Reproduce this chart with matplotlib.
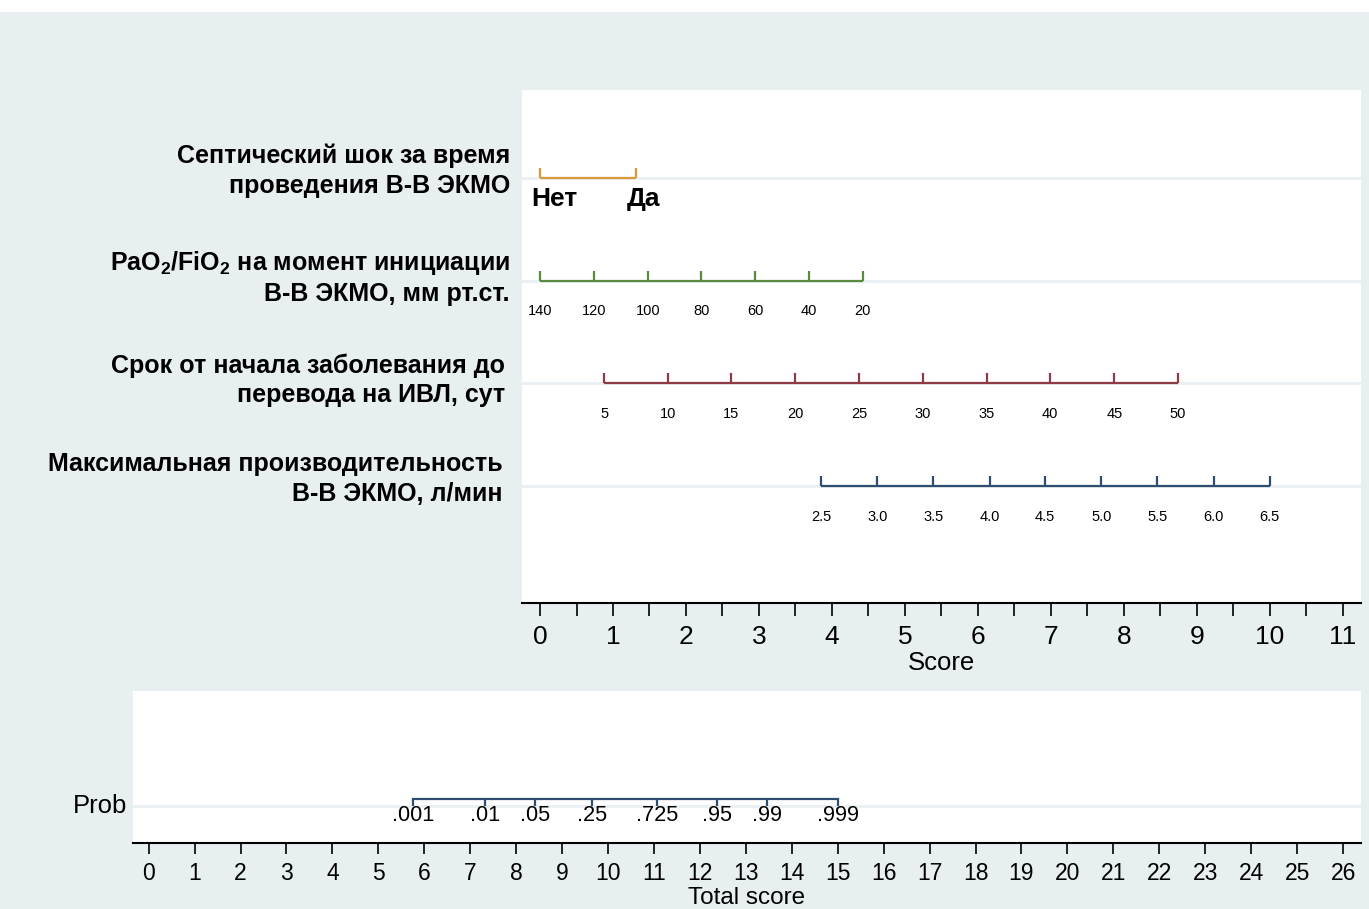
import matplotlib
matplotlib.use("Agg")
import matplotlib.pyplot as plt
import matplotlib.transforms as mtransforms
import matplotlib.patches as patches
import numpy as np

plt.rcParams['font.family'] = ['Liberation Sans', 'DejaVu Sans']
plt.rcParams['mathtext.fontset'] = 'custom'
plt.rcParams['mathtext.rm'] = 'Liberation Sans'
plt.rcParams['mathtext.bf'] = 'Liberation Sans:bold'

# predictor names (rows top -> bottom)
row_names = [
    "Септический шок за время\nпроведения В-В ЭКМО",
    "PaO$_\\mathbf{2}$/FiO$_\\mathbf{2}$ на момент инициации\nВ-В ЭКМО, мм рт.ст.",
    "Срок от начала заболевания до\nперевода на ИВЛ, сут",
    "Максимальная производительность\nВ-В ЭКМО, л/мин",
]
row_colors = ['#d89a3a', '#5a8a3e', '#8e3a44', '#2e4e70']

# value labels and their points on the Score scale
septic_labels = ['Нет', 'Да']
septic_score = [0, 1.31]

pao2_labels = ['140', '120', '100', '80', '60', '40', '20']
pao2_score = [0, 0.74, 1.48, 2.21, 2.95, 3.69, 4.42]

srok_labels = ['5', '10', '15', '20', '25', '30', '35', '40', '45', '50']
srok_score = [0.88, 1.75, 2.62, 3.50, 4.37, 5.25, 6.12, 6.99, 7.87, 8.74]

flow_labels = ['2.5', '3.0', '3.5', '4.0', '4.5', '5.0', '5.5', '6.0', '6.5']
flow_score = [3.85, 4.62, 5.39, 6.16, 6.92, 7.69, 8.46, 9.23, 10.0]

# probability scale against total score
prob_labels = ['.001', '.01', '.05', '.25', '.725', '.95', '.99', '.999']
prob_total = [5.76, 7.32, 8.42, 9.66, 11.06, 12.37, 13.46, 15.0]

score_ticks = np.arange(0, 11.5, 0.5)
total_ticks = np.arange(0, 27, 1)

W, H = 1369, 909
fig = plt.figure(figsize=(W / 100, H / 100), dpi=100)
fig.patch.set_facecolor('#e8eff1')
fig.patches.append(patches.Rectangle((0, 1 - 12 / H), 1, 12 / H, transform=fig.transFigure,
                                     facecolor='white', edgecolor='none', zorder=0))

# ---------- top panel: points ----------
ax = fig.add_axes([522 / W, 1 - 603 / H, (1361 - 522) / W, (603 - 90) / H])
ax.set_facecolor('white')
ax.set_xlim(-0.247, 11.25)
ax.set_ylim(-0.139, 4.857)
for s in ['top', 'right', 'left']:
    ax.spines[s].set_visible(False)
ax.spines['bottom'].set_linewidth(1.5)
ax.set_yticks([])
ax.set_xticks(score_ticks)
ax.set_xticklabels([str(int(t)) if t == int(t) else '' for t in score_ticks])
ax.tick_params(axis='x', length=9, width=1.2, labelsize=19, pad=7)
ax.set_xlabel('Score', fontsize=18.5, labelpad=1)

rows_y = [4, 3, 2, 1]
tick_h = 0.097
all_scores = [septic_score, pao2_score, srok_score, flow_score]
all_labels = [septic_labels, pao2_labels, srok_labels, flow_labels]
blend = mtransforms.blended_transform_factory(ax.transAxes, ax.transData)
label_x = [(510 - 522) / 839, (510 - 522) / 839, (505 - 522) / 839, (503 - 522) / 839]
label_dy = [0.07, 0.03, 0.03, 0.07]
px = 11.497 / 839  # one pixel in score units

for i, (yy, sc, lb, col) in enumerate(zip(rows_y, all_scores, all_labels, row_colors)):
    ax.axhline(yy, color='#e9eff2', lw=2, zorder=1)
    ax.plot([sc[0], sc[-1]], [yy, yy], color=col, lw=1.6, zorder=3, solid_capstyle='butt')
    ax.vlines(sc, yy, yy + tick_h, color=col, lw=1.6, zorder=3)
    if i == 0:
        for x, t in zip(sc, lb):
            ax.text(x - 9 * px, yy - 0.2, t, ha='left', va='center',
                    fontsize=19, fontweight='bold')
    else:
        for x, t in zip(sc, lb):
            ax.text(x, yy - 0.30, t, ha='center', va='center', fontsize=10.5)
    ax.text(label_x[i], yy + label_dy[i], row_names[i], transform=blend, ha='right', va='center',
            fontsize=18, fontweight='bold', linespacing=1.3)

# ---------- bottom panel: total score / probability ----------
ax2 = fig.add_axes([133 / W, 1 - 843 / H, (1361 - 133) / W, (843 - 691) / H])
ax2.set_facecolor('white')
ax2.set_xlim(-0.34, 26.39)
ax2.set_ylim(0, 1)
for s in ['top', 'right', 'left']:
    ax2.spines[s].set_visible(False)
ax2.spines['bottom'].set_linewidth(1.5)
ax2.set_yticks([])
ax2.set_xticks(total_ticks)
ax2.tick_params(axis='x', length=8, width=1.2, labelsize=16.5, pad=6)
ax2.set_xlabel('Total score', fontsize=17.5)
ax2.xaxis.label.set_va('baseline')
ax2.xaxis.set_label_coords(0.5, (843 - 904) / 152)

prob_y = 0.243
ax2.axhline(prob_y, color='#e9eff2', lw=2, zorder=1)
ax2.plot([prob_total[0], prob_total[-1]], [prob_y + 0.046, prob_y + 0.046], color='#2e4e70', lw=1.6, zorder=3)
ax2.vlines(prob_total, prob_y, prob_y + 0.046, color='#2e4e70', lw=1.6, zorder=3)
for x, t in zip(prob_total, prob_labels):
    ax2.text(x, prob_y - 0.06, t, ha='center', va='center', fontsize=15.7, zorder=4)
ax2.text(-0.005, prob_y, 'Prob', transform=mtransforms.blended_transform_factory(ax2.transAxes, ax2.transData),
         ha='right', va='center', fontsize=18.5)

fig.savefig('out.png', dpi=100, facecolor=fig.get_facecolor())
